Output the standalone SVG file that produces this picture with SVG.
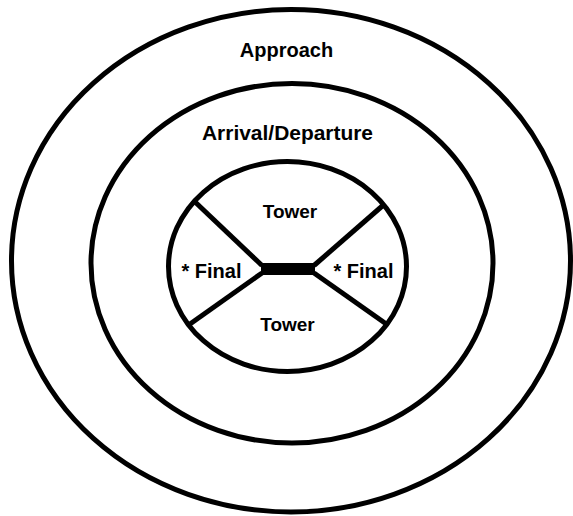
<svg xmlns="http://www.w3.org/2000/svg" width="573" height="516" viewBox="0 0 573 516">
<style>
.ring{fill:none;stroke:#000;stroke-width:5}
.div{stroke:#000;stroke-width:5;stroke-linecap:butt;fill:none}
.lbl{font-family:"Liberation Sans",Arial,Helvetica,sans-serif;font-weight:bold;font-size:20px;fill:#000}
</style>
<rect width="573" height="516" fill="#fff"/>
<g id="approach">
<ellipse class="ring" cx="291" cy="260.75" rx="279.5" ry="251.25"/>
<text class="lbl" x="286.5" y="56.5" text-anchor="middle">Approach</text>
</g>
<g id="arrival-departure">
<ellipse class="ring" cx="292" cy="263.25" rx="201" ry="179.75"/>
<text class="lbl" x="287.5" y="140" text-anchor="middle" textLength="171" lengthAdjust="spacingAndGlyphs">Arrival/Departure</text>
</g>
<g id="tower-area">
<ellipse class="ring" cx="287.5" cy="266.5" rx="119" ry="105"/>
</g>
<g id="connectors">
<line class="div" x1="193" y1="200" x2="262" y2="265.5"/>
<line class="div" x1="190" y1="324" x2="262" y2="273"/>
<line class="div" x1="384" y1="204.5" x2="314" y2="265.5"/>
<line class="div" x1="387" y1="324.5" x2="314" y2="273"/>
<rect x="261" y="263" width="54" height="12" fill="#000"/>
</g>
<g id="tower-top">
<text class="lbl" x="290" y="218.3" text-anchor="middle" font-size="19" style="font-size:19px">Tower</text>
</g>
<g id="tower-bottom">
<text class="lbl" x="287.5" y="330.7" text-anchor="middle" style="font-size:19px">Tower</text>
</g>
<g id="final-left">
<text class="lbl" x="181.5" y="278.3">* Final</text>
</g>
<g id="final-right">
<text class="lbl" x="333.5" y="278.3">* Final</text>
</g>
</svg>
